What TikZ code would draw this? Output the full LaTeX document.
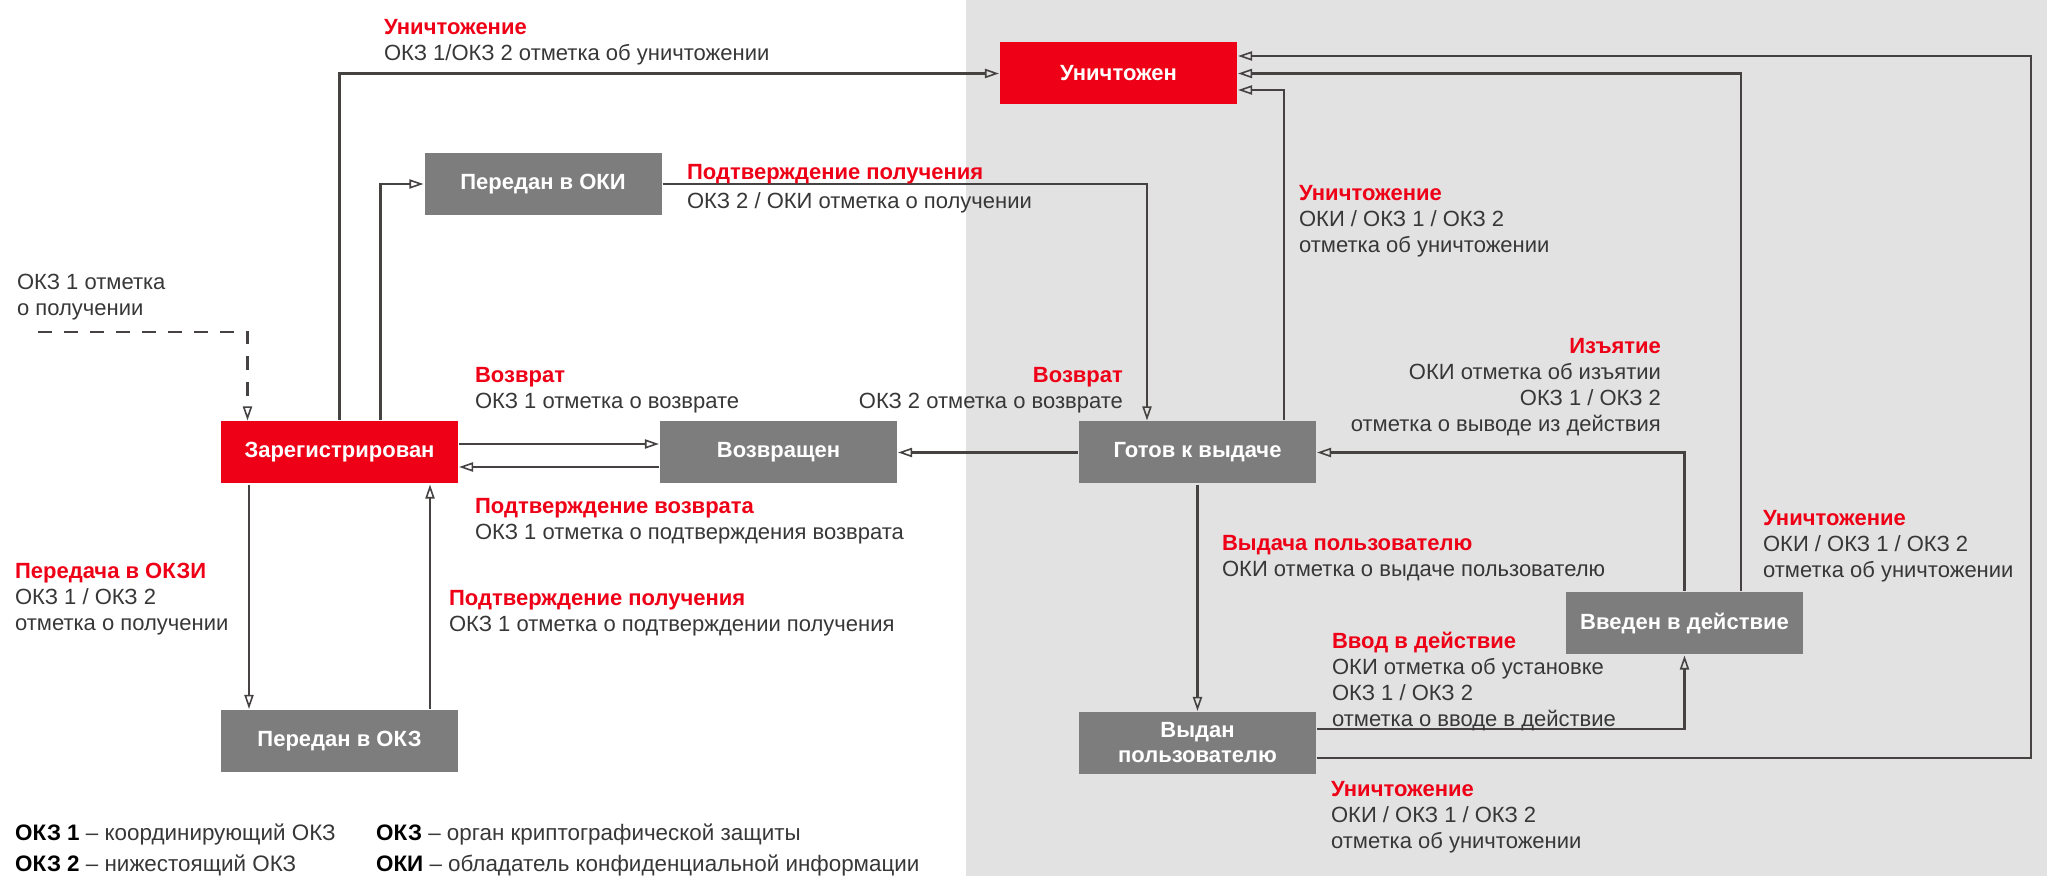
\documentclass[tikz,border=0pt]{standalone}
\usepackage{fontspec}
\setmainfont{Liberation Sans}
\usetikzlibrary{arrows.meta}
\definecolor{okred}{RGB}{238,0,22}
\definecolor{boxgray}{RGB}{125,125,125}
\definecolor{bggray}{RGB}{226,226,226}
\definecolor{lin}{RGB}{70,66,66}
\definecolor{txt}{RGB}{55,55,55}
\newcommand{\redhd}[1]{\textcolor{okred}{\bfseries #1}}

\begin{document}
\begin{tikzpicture}[x=0.5pt,y=-0.5pt,>={Triangle[open,length=7pt,width=4.6pt,line width=0.8pt]},->,
    line width=1.1pt,color=lin,
    state/.style={fill=boxgray,text=white,font=\bfseries\fontsize{11}{12.5}\selectfont,
        minimum width=118.5pt,minimum height=31pt,inner sep=0pt,align=center},
    redstate/.style={state,fill=okred},
    lbl/.style={anchor=north west,align=left,inner sep=0pt,text=txt,font=\fontsize{11}{13}\selectfont},
    lblr/.style={lbl,anchor=north east,align=right},
    legend/.style={lbl,font=\fontsize{11.2}{13}\selectfont}]
    \useasboundingbox (0,0) rectangle (2047,876);
    \fill[bggray] (966,0) rectangle (2047,876);

    \node[redstate](des) at (1118.5,73.5) {Уничтожен};
    \node[state](oki) at (543,184) {Передан в ОКИ};
    \node[redstate](reg) at (339.5,452.5) {Зарегистрирован};
    \node[state](ret) at (778.5,452.5) {Возвращен};
    \node[state](rdy) at (1197.5,452.5) {Готов к выдаче};
    \node[state](okz) at (339.5,741) {Передан в ОКЗ};
    \node[state](act) at (1684.5,623.5) {Введен в действие};
    \node[state](iss) at (1197.5,743) {Выдан\\пользователю};
    \coordinate(start) at (38,332);

    \draw[dash pattern=on 7pt off 6pt](start)-|([xshift=-46pt]reg.north);
    \draw(reg.north)|-(des.west);
    \draw([xshift=20.5pt]reg.north)|-(oki.west);
    \draw(oki.east)-|([xshift=-25.25pt]rdy.north);
    \draw([xshift=43.25pt]rdy.north)|-([yshift=-8.25pt]des.east);
    \draw([xshift=28.25pt]act.north)|-(des.east);
    \draw([yshift=-7.5pt]iss.east)-|([shift={(396.5pt,8.75pt)}]des.east)--([yshift=8.75pt]des.east);
    \draw([yshift=7pt]iss.east)-|(act.south);
    \draw(act.north)|-(rdy.east);
    \foreach \k/\l in {rdy/ret, rdy/iss}{\draw(\k)--(\l);}
    \foreach \k/\l/\s in {reg.east/ret.west/4.25pt, ret.west/reg.east/-7.25pt}{
        \draw([yshift=\s]\k)--([yshift=\s]\l);
    }
    \foreach \k/\l/\s in {reg.south/okz.north/-45.25pt, okz.north/reg.south/45.25pt}{
        \draw([xshift=\s]\k)--([xshift=\s]\l);
    }

    \node[lbl](n0) at (16,273) {ОКЗ 1 отметка\\о получении};
    \node[lbl](n1) at (383,18) {\redhd{Уничтожение}\\ОКЗ 1/ОКЗ 2 отметка об уничтожении};
    \node[lbl](n2) at (686,163) {\redhd{Подтверждение получения}\\[1.5pt]ОКЗ 2 / ОКИ отметка о получении};
    \node[lbl](n3) at (1298,184) {\redhd{Уничтожение}\\ОКИ / ОКЗ 1 / ОКЗ 2\\отметка об уничтожении};
    \node[lbl](n4) at (474,366) {\redhd{Возврат}\\ОКЗ 1 отметка о возврате};
    \node[lbl](n5) at (474,497) {\redhd{Подтверждение возврата}\\ОКЗ 1 отметка о подтверждения возврата};
    \node[lblr](n6) at (1124,366) {\redhd{Возврат}\\ОКЗ 2 отметка о возврате};
    \node[lblr](n7) at (1662,337) {\redhd{Изъятие}\\ОКИ отметка об изъятии\\ОКЗ 1 / ОКЗ 2\\отметка о выводе из действия};
    \node[lbl](n8) at (1221,534) {\redhd{Выдача пользователю}\\ОКИ отметка о выдаче пользователю};
    \node[lbl](n9) at (1762,509) {\redhd{Уничтожение}\\ОКИ / ОКЗ 1 / ОКЗ 2\\отметка об уничтожении};
    \node[lbl](n10) at (14,562) {\redhd{Передача в ОКЗИ}\\ОКЗ 1 / ОКЗ 2\\отметка о получении};
    \node[lbl](n11) at (448,589) {\redhd{Подтверждение получения}\\ОКЗ 1 отметка о подтверждении получения};
    \node[lbl](n12) at (1331,631) {\redhd{Ввод в действие}\\ОКИ отметка об установке\\ОКЗ 1 / ОКЗ 2\\отметка о вводе в действие};
    \node[lbl](n13) at (1330,780) {\redhd{Уничтожение}\\ОКИ / ОКЗ 1 / ОКЗ 2\\отметка об уничтожении};

    \node[legend](leg1) at (14,823) {\textcolor{black}{\bfseries ОКЗ 1} – координирующий ОКЗ\\[2.5pt]\textcolor{black}{\bfseries ОКЗ 2} – нижестоящий ОКЗ};
    \node[legend](leg2) at (375,823) {\textcolor{black}{\bfseries ОКЗ} – орган криптографической защиты\\[2.5pt]\textcolor{black}{\bfseries ОКИ} – обладатель конфиденциальной информации};
\end{tikzpicture}
\end{document}
